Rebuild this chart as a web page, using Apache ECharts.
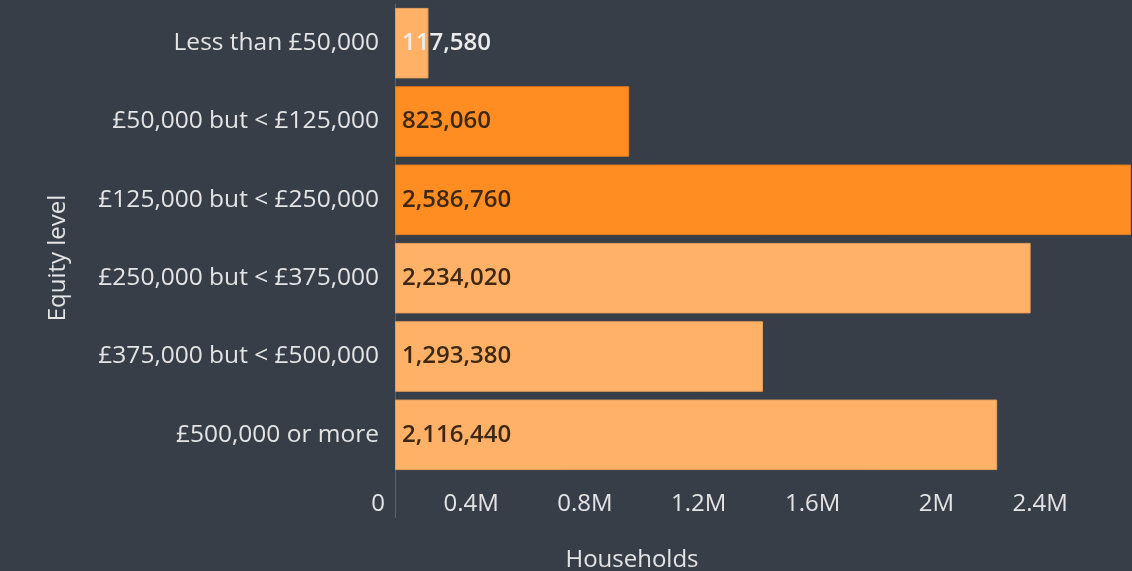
<!DOCTYPE html>
<html>
<head>
<meta charset="utf-8">
<script src="https://cdn.jsdelivr.net/npm/echarts@6/dist/echarts.min.js"></script>
<style>
  html, body { margin: 0; padding: 0; background: #383e48; }
  #chart { width: 1132px; height: 571px; }
</style>
</head>
<body>
<div id="chart"></div>
<script>
// Households by housing equity band
const categories = [
  'Less than £50,000',
  '£50,000 but < £125,000',
  '£125,000 but < £250,000',
  '£250,000 but < £375,000',
  '£375,000 but < £500,000',
  '£500,000 or more'
];
const households = [117580, 823060, 2586760, 2234020, 1293380, 2116440];
const xTickStep = 400000;
const emphasisBands = [1, 2];   // bands drawn in the stronger orange

const FONT = '"Open Sans", "Noto Sans", sans-serif';
const LIGHT = '#ffb267';
const STRONG = '#ff8d22';
const TEXT = '#e4e4e4';

const barData = households.map((v, i) => {
  const strong = emphasisBands.includes(i);
  return {
    value: v,
    itemStyle: {
      color: strong ? STRONG : LIGHT,
      borderColor: strong ? '#e57d1c' : '#e6a05e',
      borderWidth: 1
    },
    label: { color: i === 0 ? '#ececec' : '#3e2813' }
  };
});

const chart = echarts.init(document.getElementById('chart'), null, { renderer: 'canvas' });
chart.setOption({
  backgroundColor: '#383e48',
  animation: false,
  grid: { left: 395, right: 1, top: 4, bottom: 97, containLabel: false, outerBoundsMode: 'none' },
  xAxis: {
    type: 'value',
    min: 0,
    max: 'dataMax',
    interval: xTickStep,
    name: 'Households',
    nameLocation: 'middle',
    nameGap: 74,
    nameTextStyle: { color: TEXT, fontSize: 24, fontFamily: FONT, padding: [0, 262, 0, 0] },
    axisLine: { show: false },
    axisTick: { show: true, customValues: [0], length: 44, lineStyle: { color: '#5c636e', width: 1 } },
    splitLine: { show: false },
    axisLabel: {
      color: TEXT,
      fontSize: 24,
      fontFamily: FONT,
      margin: 18,
      align: 'right',
      padding: [0, 10, 0, 0],
      showMaxLabel: false,
      formatter: v => v === 0 ? '0' : (v / 1e6) + 'M'
    }
  },
  yAxis: {
    type: 'category',
    inverse: true,
    data: categories,
    name: 'Equity level',
    nameLocation: 'middle',
    nameRotate: 90,
    nameGap: 325,
    nameTextStyle: { color: TEXT, fontSize: 24, fontFamily: FONT, padding: [0, 38, 0, 0] },
    axisLine: { show: true, lineStyle: { color: '#5c636e', width: 1 } },
    axisTick: { show: false },
    axisLabel: { color: TEXT, fontSize: 24.5, fontFamily: FONT, margin: 16 }
  },
  series: [{
    type: 'bar',
    data: barData,
    barCategoryGap: '10%',
    label: {
      show: true,
      position: 'insideLeft',
      distance: 7,
      fontSize: 24,
      fontWeight: 600,
      fontFamily: FONT,
      formatter: p => p.value.toLocaleString('en-US')
    }
  }]
});
</script>
</body>
</html>
